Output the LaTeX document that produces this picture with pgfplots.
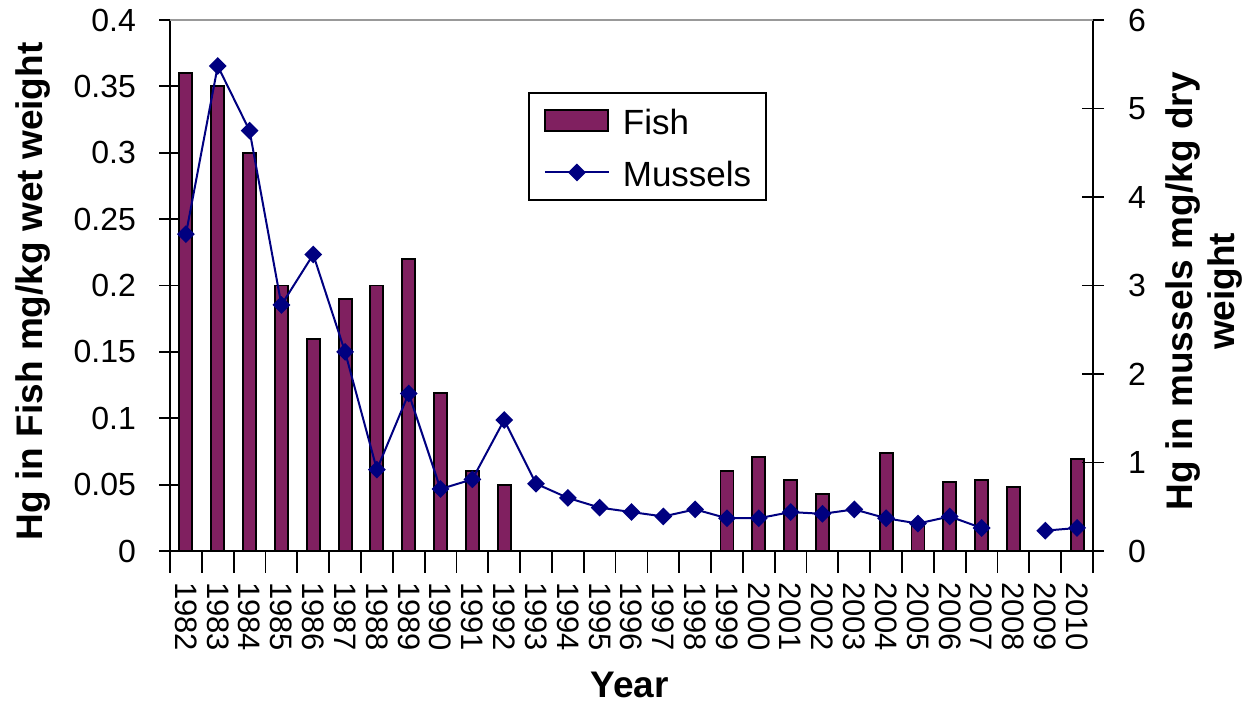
\documentclass[border=0pt]{standalone}
\usepackage{fontspec}
\setmainfont{Liberation Sans}
\usepackage{pgfplots}
\pgfplotsset{compat=1.18}
\definecolor{fishcol}{RGB}{128,32,96}
\definecolor{musselcol}{RGB}{0,0,128}
\pgfplotsset{
  common/.style={
    scale only axis, width=461.5pt, height=265.5pt,
    xmin=1981.5, xmax=2010.5,
    /pgf/number format/assume math mode=true,
    tick align=center, major tick length=11pt,
    tick style={black, line width=0.9pt},
    axis line style={black, line width=0.9pt},
    yticklabel style={font=\fontsize{16}{19}\selectfont},
    label style={font=\fontsize{18.5}{21}\selectfont\bfseries},
  },
  fishlegend/.style={legend image code/.code={%
    \draw[fill=fishcol, draw=black, line width=0.9pt] (0pt,-5.25pt) rectangle (31.5pt,5.25pt);}},
  mussellegend/.style={legend image code/.code={%
    \draw[mark repeat=2, mark phase=2, ##1] plot coordinates {(0pt,0pt) (16pt,0pt) (32pt,0pt)};}},
}

\begin{document}
\begin{tikzpicture}
% Fish: bars on the left axis
\begin{axis}[common,
  axis x line*=bottom, axis y line*=left,
  tick align=center,
  ymin=0, ymax=0.4,
  ytick={0,0.05,0.1,0.15,0.2,0.25,0.3,0.35,0.4},
  yticklabel style={/pgf/number format/fixed, /pgf/number format/precision=2, xshift=-8pt},
  xtick={1981.5,1982.5,...,2010.5},
  x tick label as interval,
  xticklabels={1982,1983,1984,1985,1986,1987,1988,1989,1990,1991,1992,1993,1994,1995,1996,1997,1998,1999,2000,2001,2002,2003,2004,2005,2006,2007,2008,2009,2010},
  xticklabel style={rotate=-90, anchor=west, xshift=1pt, font=\fontsize{15.5}{18}\selectfont},
  xlabel={Year},
  xlabel style={at={(axis description cs:0.498,-0.253)}, anchor=center, inner sep=0pt},
  ylabel={Hg in Fish mg/kg wet weight},
  ylabel style={at={(axis description cs:-0.148,0.489)}, anchor=center},
  ybar, bar width=6.5pt,
]
\addplot[fill=fishcol, draw=black, line width=0.95pt] table {
year fish
1982 0.36
1983 0.35
1984 0.30
1985 0.20
1986 0.16
1987 0.19
1988 0.20
1989 0.22
1990 0.119
1991 0.06
1992 0.05
1999 0.06
2000 0.071
2001 0.0535
2002 0.043
2004 0.074
2005 0.022
2006 0.052
2007 0.0535
2008 0.048
2010 0.069
};
\end{axis}
% Mussels: line on the right axis
\begin{axis}[common,
  axis x line=none, axis y line*=right,
  tick align=center,
  ymin=0, ymax=6, ytick={0,1,2,3,4,5,6},
  yticklabel style={xshift=8.5pt},
  ylabel={Hg in mussels mg/kg dry\\weight},
  ylabel style={align=center, at={(axis description cs:1.12,0.489)}, anchor=center},
  legend style={at={(axis description cs:0.388,0.864)}, anchor=north west,
    draw=black, line width=0.75pt, font=\fontsize{17.5}{20}\selectfont,
    inner xsep=7.5pt, inner ysep=3.5pt, row sep=5.5pt, column sep=6.5pt,
    nodes={inner sep=0pt, text height=17.5pt, text depth=3pt}},
  legend cell align=left,
]
\addlegendimage{fishlegend}
\addlegendentry{Fish}
\addplot[musselcol, line width=1pt, mark=square*, mark size=2.65pt,
  mark options={rotate=45, solid}, unbounded coords=jump, mussellegend]
  table {
year mussels
1982 3.58
1983 5.48
1984 4.75
1985 2.78
1986 3.35
1987 2.25
1988 0.92
1989 1.78
1990 0.70
1991 0.81
1992 1.48
1993 0.76
1994 0.60
1995 0.49
1996 0.44
1997 0.39
1998 0.47
1999 0.37
2000 0.37
2001 0.44
2002 0.42
2003 0.47
2004 0.37
2005 0.31
2006 0.39
2007 0.26
2008 nan
2009 0.23
2010 0.26
};
\addlegendentry{Mussels}
\end{axis}
% grey top edge of the plot area
\draw[gray!80, line width=0.9pt] (current axis.north west) -- (current axis.north east);
\pgfresetboundingbox
\path ([xshift=-85pt,yshift=-76.5pt]current axis.south west) rectangle ([xshift=81.5pt,yshift=10pt]current axis.north east);
\end{tikzpicture}
\end{document}
